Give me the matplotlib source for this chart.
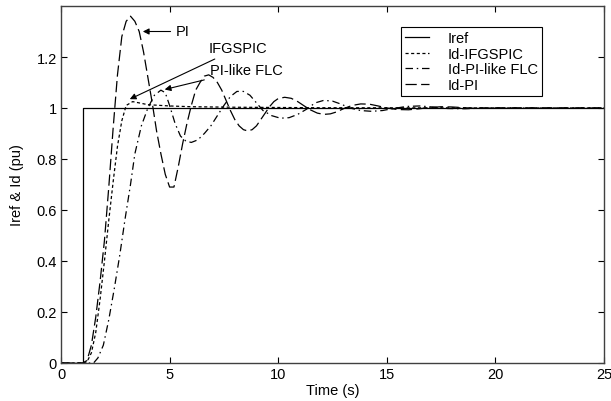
import matplotlib
matplotlib.use("Agg")
import matplotlib.pyplot as plt

plt.rcParams['font.family'] = ['Liberation Sans', 'DejaVu Sans']
plt.rcParams['font.size'] = 10.5

# Reference current (step at t = 1 s)
iref_t = [0, 1, 1, 25]
iref_y = [0, 0, 1, 1]

# Id with IFGSPIC controller
ifg_t = [0, 1.0, 1.2, 1.4, 1.6, 1.8, 2.0, 2.2, 2.4, 2.6, 2.8, 3.0, 3.3, 3.6, 4.0, 5.0, 6.0, 8.0, 12.0, 25.0]
ifg_y = [0, 0, 0.005, 0.04, 0.12, 0.25, 0.40, 0.56, 0.71, 0.85, 0.95, 1.01, 1.025, 1.02, 1.013, 1.008, 1.005, 1.003, 1.001, 1.0]

# Id with PI-like FLC
flc_t = [0, 1.0, 1.5, 1.7, 1.95, 2.2, 2.45, 2.7, 2.95, 3.2, 3.4, 3.7, 4.0, 4.3, 4.6, 4.8, 5.0, 5.25,
         5.5, 5.75, 6.0, 6.3, 6.6, 6.9, 7.2, 7.5, 7.8, 8.1, 8.4, 8.7, 9.0, 9.3, 9.7, 10.1, 10.5, 10.9,
         11.3, 11.7, 12.1, 12.5, 12.9, 13.3, 13.8, 14.3, 14.8, 15.3, 15.9, 16.5, 17.1, 17.8, 18.6, 19.5, 25.0]
flc_y = [0, 0, 0.0, 0.02, 0.07, 0.17, 0.29, 0.42, 0.565, 0.70, 0.82, 0.93, 1.0, 1.05, 1.07, 1.06, 1.01, 0.94,
         0.89, 0.87, 0.865, 0.875, 0.90, 0.93, 0.97, 1.01, 1.045, 1.065, 1.065, 1.05, 1.02, 0.99, 0.97, 0.96, 0.962, 0.975,
         0.995, 1.02, 1.03, 1.027, 1.015, 1.0, 0.99, 0.987, 0.99, 0.998, 1.006, 1.008, 1.004, 0.998, 0.997, 1.0, 1.0]

# Id with conventional PI
pi_t = [0, 1.0, 1.2, 1.4, 1.6, 1.8, 2.0, 2.2, 2.4, 2.6, 2.8, 3.0, 3.2, 3.4, 3.6, 3.8, 4.0, 4.2, 4.4, 4.6,
        4.8, 5.0, 5.2, 5.4, 5.6, 5.8, 6.0, 6.2, 6.4, 6.6, 6.8, 7.0, 7.2, 7.4, 7.6, 7.8, 8.0, 8.2, 8.4, 8.6,
        8.8, 9.0, 9.2, 9.4, 9.6, 9.8, 10.0, 10.3, 10.6, 10.9, 11.2, 11.5, 11.8, 12.1, 12.4, 12.7, 13.0, 13.4,
        13.8, 14.2, 14.6, 15.0, 15.5, 16.0, 16.5, 17.0, 17.5, 18.0, 19.0, 20.0, 25.0]
pi_y = [0, 0, 0.01, 0.07, 0.18, 0.32, 0.48, 0.69, 0.92, 1.13, 1.28, 1.34, 1.36, 1.34, 1.30, 1.22, 1.12, 1.02, 0.91, 0.82,
        0.74, 0.69, 0.69, 0.77, 0.86, 0.94, 1.01, 1.07, 1.10, 1.125, 1.13, 1.12, 1.10, 1.07, 1.03, 0.99, 0.955, 0.93, 0.915, 0.91,
        0.915, 0.93, 0.955, 0.98, 1.005, 1.025, 1.037, 1.042, 1.038, 1.025, 1.008, 0.992, 0.98, 0.975, 0.977, 0.985, 0.997, 1.01,
        1.016, 1.015, 1.008, 1.0, 0.994, 0.993, 0.997, 1.002, 1.005, 1.004, 0.999, 1.0, 1.0]

x_ticks = [0, 5, 10, 15, 20, 25]
y_ticks = [0, 0.2, 0.4, 0.6, 0.8, 1.0, 1.2]
y_tick_labels = ['0', '0.2', '0.4', '0.6', '0.8', '1', '1.2']

fig = plt.figure(figsize=(6.11, 4.02), dpi=100)
ax = fig.add_axes([61 / 611, 1 - 364 / 402, 543 / 611, 357 / 402])

lw = 0.9
ax.plot(iref_t, iref_y, color='black', lw=lw, label='Iref')
ax.plot(ifg_t, ifg_y, color='black', lw=lw, dashes=(2.5, 2), label='Id-IFGSPIC')
ax.plot(flc_t, flc_y, color='black', lw=lw, dashes=(6, 3, 1.2, 3), label='Id-PI-like FLC')
ax.plot(pi_t, pi_y, color='black', lw=lw, dashes=(9, 3.5), label='Id-PI')

ax.set_xlim(0, 25)
ax.set_ylim(0, 1.4)
ax.set_xticks(x_ticks)
ax.set_xticklabels([str(v) for v in x_ticks])
ax.set_yticks(y_ticks)
ax.set_yticklabels(y_tick_labels)
ax.tick_params(direction='in', length=4, width=0.8, top=True, right=True, pad=3)
for s in ax.spines.values():
    s.set_color('#404040')
    s.set_linewidth(1.0)

ax.set_xlabel('Time (s)', labelpad=1)
ax.set_ylabel('Iref & Id (pu)', labelpad=9)

leg = ax.legend(loc='upper left', bbox_to_anchor=(0.626, 0.941), borderaxespad=0,
                fancybox=False, framealpha=1, edgecolor='black', handlelength=1.6,
                handletextpad=1.3, labelspacing=0.1, borderpad=0.3, fontsize=10.5)
leg.get_frame().set_linewidth(0.8)

arrow = dict(arrowstyle='-|>', color='black', lw=0.8, mutation_scale=9)
ax.annotate('PI', xy=(3.64, 1.30), xytext=(5.3, 1.30), va='center', ha='left', arrowprops=arrow)
ax.annotate('IFGSPIC', xy=(3.05, 1.03), xytext=(6.8, 1.235), va='center', ha='left', arrowprops=arrow)
ax.annotate('PI-like FLC', xy=(4.65, 1.07), xytext=(6.85, 1.15), va='center', ha='left', arrowprops=arrow)

fig.savefig('out.png', dpi=100)
